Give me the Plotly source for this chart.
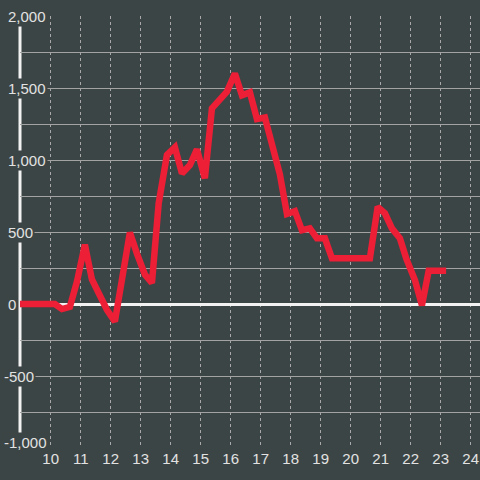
import plotly.graph_objects as go

hours = [8.9, 10.14, 10.375, 10.64, 10.875, 11.14, 11.375, 11.64, 11.875, 12.14,
         12.64, 12.875, 13.14, 13.375, 13.6, 13.875, 14.14, 14.375, 14.64, 14.875,
         15.14, 15.375, 15.64, 15.875, 16.14, 16.375, 16.64, 16.875, 17.14, 17.375,
         17.64, 17.875, 18.14, 18.375, 18.64, 18.875, 19.14, 19.375, 20.64, 20.9,
         21.14, 21.375, 21.64, 21.85, 22.14, 22.375, 22.6, 23.18]
values = [0, 0, -35, -20, 155, 412, 170, 50, -40, -122,
          497, 350, 205, 146, 700, 1035, 1088, 907, 965, 1074,
          873, 1359, 1420, 1475, 1600, 1450, 1470, 1285, 1295, 1110,
          900, 625, 645, 512, 525, 456, 456, 317, 317, 675,
          630, 525, 456, 317, 167, -10, 231, 231]

x_ticks = list(range(10, 25))
y_label_vals = [2000, 1500, 1000, 500, 0, -500, -1000]
y_label_text = ["2,000", "1,500", "1,000", "500", "0", "-500", "-1,000"]

BG = "#3c4545"
TXT = "#e2e2e2"
fig = go.Figure()
fig.add_trace(go.Scatter(x=hours, y=values, mode="lines",
                         line=dict(color="#ec1f37", width=6.5),
                         hoverinfo="skip", showlegend=False, cliponaxis=False))

fig.update_layout(
    width=480, height=480,
    margin=dict(l=20, r=0, t=16, b=32),
    paper_bgcolor=BG, plot_bgcolor=BG,
    font=dict(family="Liberation Sans, Arial, sans-serif", color=TXT, size=15),
    xaxis=dict(range=[8.977, 24.31], tickvals=x_ticks, ticktext=[str(v) for v in x_ticks],
               showgrid=True, gridcolor="#a9a9a9", gridwidth=1, griddash="dot",
               zeroline=False, showline=False, ticks="",
               tickfont=dict(size=15, color=TXT)),
    yaxis=dict(range=[-1000, 2000], dtick=250, tick0=0,
               showgrid=True, gridcolor="#a3a3a3", gridwidth=1,
               zeroline=True, zerolinecolor="#f2f2f2", zerolinewidth=3,
               showticklabels=False, showline=False, ticks=""),
)

# y axis line
fig.add_shape(type="line", xref="paper", yref="paper", x0=0, x1=0, y0=0, y1=1,
              line=dict(color="#f2f2f2", width=3), layer="below")
# mask the start of the bottom grid line (reference starts it at hour 10)
fig.add_shape(type="line", xref="paper", yref="paper", x0=0.004, x1=30 / 460, y0=0, y1=0,
              line=dict(color=BG, width=2), layer="below")

for v, t in zip(y_label_vals, y_label_text):
    px_left = 2.7 if t.startswith("-") else 6.5
    ys = 6 if v == -1000 else 0
    fig.add_annotation(x=(px_left - 20 - 1) / 460, xref="paper", y=v, yref="y",
                       text=t, showarrow=False, xanchor="left", yanchor="middle",
                       yshift=ys, bgcolor=BG, borderpad=1,
                       font=dict(size=15, color=TXT))

fig.write_html("out.html", config={"displayModeBar": False},
               post_script="document.body.style.margin='0';document.body.style.overflow='hidden';")
